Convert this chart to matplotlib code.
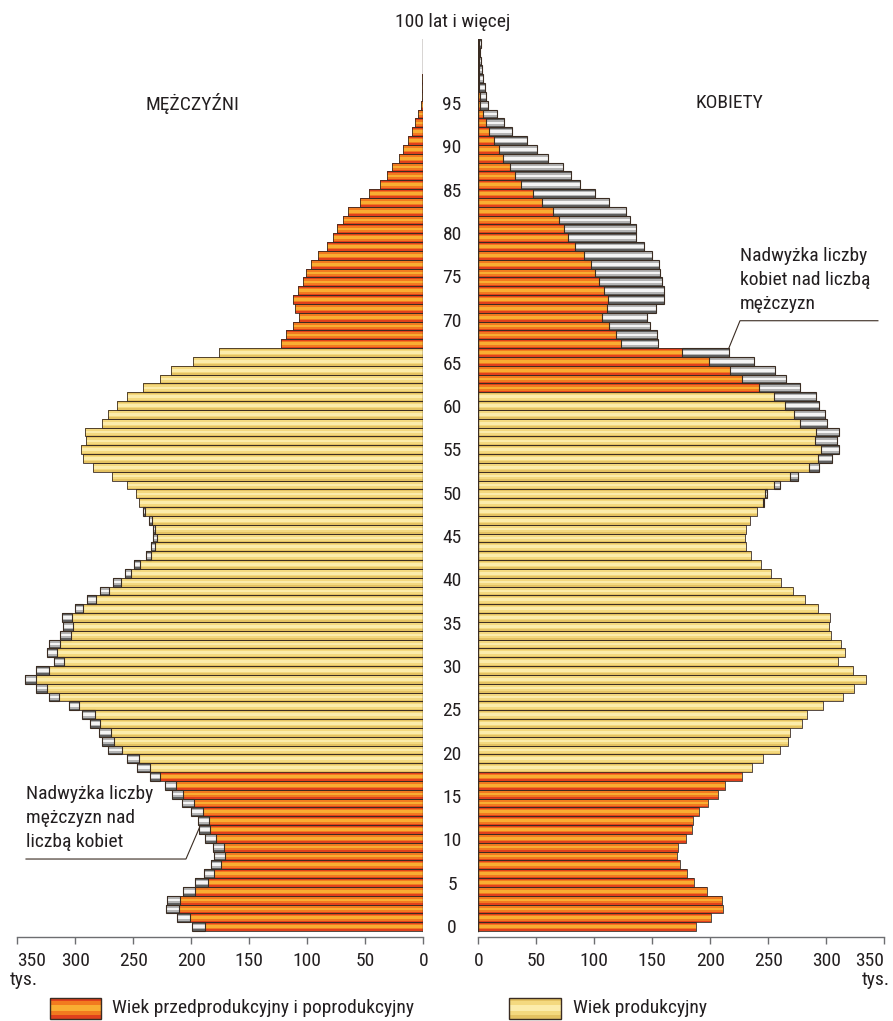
import numpy as np
from matplotlib import pyplot as plt
from matplotlib import transforms
from matplotlib import font_manager

# pick a narrow face if the system has one
installed = {f.name for f in font_manager.fontManager.ttflist}
narrow = [n for n in ['Roboto Condensed', 'Liberation Sans Narrow', 'Open Sans Condensed',
                      'Noto Sans Condensed', 'DejaVu Sans Condensed'] if n in installed]
if narrow:
    plt.rcParams['font.family'] = [narrow[0], 'DejaVu Sans']
    FS = 14
else:
    plt.rcParams['font.family'] = ['Liberation Sans', 'DejaVu Sans']
    FS = 12.5

ages = np.arange(101)
men = np.array([199, 212.6, 221.6, 220.7, 207, 196.6, 188.8, 183.3, 180, 181.6,
                188, 193, 194.5, 200.3, 208, 217, 223, 236, 246.6, 255.7,
                271.6, 277.3, 279.6, 287.4, 294, 305.7, 323, 334, 343, 334,
                318.4, 324, 322.7, 313, 311, 311.5, 300, 290, 278.7, 267.8,
                257, 249.4, 239, 235, 233, 233.3, 236.2, 241.4, 245.4, 247.4,
                255.2, 268.4, 285, 293, 295.5, 290.5, 291.5, 277, 272, 264,
                255.2, 242, 227.3, 217.4, 198.5, 176, 123, 118.6, 112.7, 106.9,
                111, 112, 108, 104, 100.8, 97, 91, 83, 77.6, 74.1,
                69.2, 64.5, 54.6, 47.2, 37.2, 31.6, 27.3, 21.2, 17.6, 13.6,
                9.4, 6.9, 4.3, 1.8, 1.4, 1.0, 0.8, 0.6, 0.4, 0.3, 0.3])
women = np.array([188, 201, 211, 210, 197, 186, 180, 174, 171, 172,
                  179, 184, 185, 190, 198, 207, 213, 227, 236, 245,
                  260, 267, 269, 279, 283, 297, 314, 324, 334, 323,
                  310, 316, 313, 304, 302, 303, 293, 282, 271, 261,
                  252, 244, 235, 231, 230, 231, 234, 240, 246, 249,
                  260, 276, 294, 305, 311, 309, 311, 301, 299, 294,
                  291, 277, 265, 256, 238, 216, 155, 154, 148, 145,
                  153, 160, 160, 158, 157, 156, 150, 143, 136, 136,
                  131, 127, 113, 101, 88, 80, 73, 60, 51, 42,
                  29, 22, 16, 8.6, 6.3, 5.5, 3.7, 3.4, 2, 1.1, 2.0])

# productive age ranges as drawn in the chart
men_productive = (ages >= 18) & (ages <= 65)
women_productive = (ages >= 18) & (ages <= 60)

age_ticks = list(range(0, 100, 5))
x_ticks = [0, 50, 100, 150, 200, 250, 300, 350]

orange = ['#e0401c', '#f27a1f', '#f9ad32']
yellow = ['#e4c262', '#f4d97f', '#fcecab']
grey = ['#606060', '#b4b4b4', '#f4f4f4']
edge = '#3a2c22'
txt = '#231f20'


def cyl(ax, y, width, left, shades, h=1.0, lw=0.6):
    ax.barh(y, width, left=left, height=h, color=shades[0], linewidth=0)
    ax.barh(y, width, left=left, height=h * 0.66, color=shades[1], linewidth=0)
    ax.barh(y, width, left=left, height=h * 0.3, color=shades[2], linewidth=0)
    ax.barh(y, width, left=left, height=h, fill=False, edgecolor=edge, linewidth=lw)


def side(ax, own, other, productive):
    base = np.minimum(own, other)
    cyl(ax, ages[productive], base[productive], 0, yellow)
    cyl(ax, ages[~productive], base[~productive], 0, orange)
    extra = own - base
    m = extra > 0.05
    cyl(ax, ages[m], extra[m], base[m], grey, lw=0.8)
    ax.plot([0, 0], [-0.5, 100.5], color=edge, lw=1.0)
    ax.set_ylim(-0.5 - 5.7 / 8.83, 100.5)
    ax.set_yticks([])
    ax.set_xticks(x_ticks)
    ax.set_xticklabels([str(v) for v in x_ticks])
    for s in ['top', 'left', 'right']:
        ax.spines[s].set_visible(False)
    ax.spines['bottom'].set_color('#6d6e71')
    ax.spines['bottom'].set_linewidth(1.0)
    ax.tick_params(axis='x', direction='out', length=4.8, width=1.0, color='#6d6e71',
                   pad=6, labelsize=FS, labelcolor=txt)
    ax.set_facecolor('none')


fig = plt.figure(figsize=(8.93, 10.21), dpi=100)
H = 1021.0
W = 893.0
axL = fig.add_axes([17.3 / W, 84.3 / H, 406 / W, 897.7 / H])
axR = fig.add_axes([478.3 / W, 84.3 / H, 406 / W, 897.7 / H])

side(axL, men, women, men_productive)
side(axR, women, men, women_productive)
axL.set_xlim(350, 0)
axR.set_xlim(0, 350)
axL.get_xticklabels()[-1].set_ha('left')
axR.get_xticklabels()[-1].set_ha('right')

# age labels between the panels
tr = transforms.blended_transform_factory(fig.transFigure, axR.transData)
for a in age_ticks:
    fig.text(452 / W, 0.981 * a - 0.16, str(a), transform=tr, ha='center', va='center',
             fontsize=FS, color=txt)

fig.text(453 / W, 1 - 22 / H, '100 lat i więcej', ha='center', va='center', fontsize=FS, color=txt)
fig.text(192 / W, 1 - 103 / H, 'MĘŻCZYŹNI', ha='center', va='center', fontsize=FS, color=txt)
fig.text(729 / W, 1 - 103 / H, 'KOBIETY', ha='center', va='center', fontsize=FS, color=txt)
fig.text(10 / W, 1 - 980 / H, 'tys.', ha='left', va='center', fontsize=FS, color=txt)
fig.text(890 / W, 1 - 980 / H, 'tys.', ha='right', va='center', fontsize=FS, color=txt)

# annotations
axR.text(225.6, 73.2, 'Nadwyżka liczby\nkobiet nad liczbą\nmężczyzn', ha='left', va='center',
         fontsize=FS, color=txt, linespacing=1.45)
axR.plot([344.5, 225.6, women[65]], [68.6, 68.6, 65.5], color=edge, lw=0.8, clip_on=False)
axL.text(342.5, 12.3, 'Nadwyżka liczby\nmężczyzn nad\nliczbą kobiet', ha='left', va='center',
         fontsize=FS, color=txt, linespacing=1.45)
axL.plot([342.5, 204.6, men[11]], [7.65, 7.65, 11.2], color=edge, lw=0.8, clip_on=False)

# legend
leg = fig.add_axes([0, 0, 1, 1])
leg.set_xlim(0, W)
leg.set_ylim(H, 0)
leg.axis('off')
cyl(leg, [1008], [51], [50], orange, h=21, lw=1.0)
cyl(leg, [1008], [52], [509], yellow, h=21, lw=1.0)
leg.text(112, 1008, 'Wiek przedprodukcyjny i poprodukcyjny', ha='left', va='center',
         fontsize=FS, color=txt)
leg.text(573, 1008, 'Wiek produkcyjny', ha='left', va='center', fontsize=FS, color=txt)

fig.savefig('out.png', dpi=100)
